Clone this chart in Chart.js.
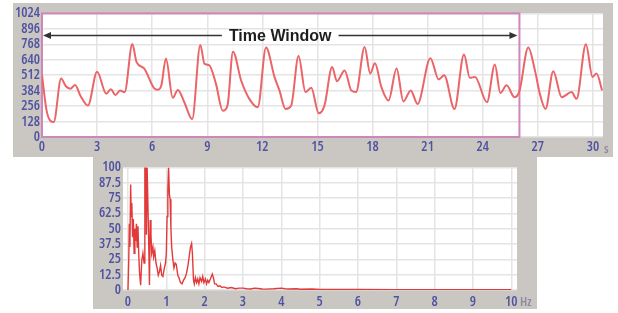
<!DOCTYPE html>
<html>
<head>
<meta charset="utf-8">
<script src="https://cdn.jsdelivr.net/npm/chart.js@4/dist/chart.umd.min.js"></script>
<style>
  body { margin: 0; background: #fff; width: 618px; height: 313px; overflow: hidden; position: relative; }
  .panel { position: absolute; background: #cac6c2; }
  #top-panel { left: 13px; top: 3px; width: 600px; height: 154px; }
  #bottom-panel { left: 93px; top: 157px; width: 444px; height: 152px; }
  canvas { position: absolute; left: 0; top: 0; }
  .unit { position: absolute; color: #8a8aa0; font: condensed 600 13px 'Open Sans', sans-serif; }
</style>
</head>
<body>
<div class="panel" id="top-panel"><canvas id="signal-chart" width="600" height="154"></canvas></div>
<div class="panel" id="bottom-panel"><canvas id="spectrum-chart" width="444" height="152"></canvas></div>
<span class="unit" style="left:604px; top:139px;">s</span>
<span class="unit" style="left:520px; top:292px;">Hz</span>
<script>
// time signal (seconds, value)
const times = [0, 0.27, 0.64, 1.04, 1.3, 1.55, 1.8, 2.1, 2.5, 3.0, 3.5, 3.75, 4.0, 4.25, 4.5, 4.92, 5.15, 5.56, 6.1, 6.32,
  6.5, 6.75, 7.12, 7.4, 7.75, 8.18, 8.62, 8.85, 9.1, 9.47, 9.84, 10.1, 10.4, 10.84, 11.29, 11.75, 12.2, 12.66, 12.93, 13.26,
  13.57, 13.97, 14.35, 14.66, 15.07, 15.38, 15.8, 16.06, 16.48, 16.84, 17.1, 17.57, 17.87, 18.13, 18.48, 18.87, 19.31, 19.68,
  20.08, 20.45, 21.15, 21.6, 21.9, 22.46, 22.98, 23.3, 23.58, 24.23, 24.66, 24.96, 25.3, 25.73, 26.0, 26.48, 26.84, 27.11,
  27.42, 27.84, 28.3, 28.84, 29.11, 29.62, 29.98, 30.2, 30.5];
const signal = [512, 204, 125, 484, 420, 400, 430, 340, 260, 540, 358, 395, 348, 386, 372, 770, 620, 568, 405, 392,
  428, 650, 325, 390, 288, 148, 763, 605, 596, 442, 218, 260, 707, 470, 316, 246, 741, 498, 386, 232,
  260, 671, 372, 408, 196, 260, 580, 462, 550, 386, 372, 746, 526, 610, 414, 302, 568, 295,
  386, 274, 652, 477, 512, 232, 684, 490, 498, 288, 600, 365, 428, 330, 380, 741, 554, 358,
  232, 545, 330, 372, 316, 769, 498, 526, 386];
const timeTicks = [0, 3, 6, 9, 12, 15, 18, 21, 24, 27, 30];
const windowRange = [0, 26];

// spectrum (Hz, amplitude)
const freqs = [0, 0.02, 0.035, 0.05, 0.07, 0.085, 0.1, 0.12, 0.14, 0.16,
  0.18, 0.2, 0.22, 0.24, 0.26, 0.28, 0.3, 0.33, 0.36, 0.39,
  0.42, 0.44, 0.47, 0.48, 0.5, 0.52, 0.54, 0.56, 0.58, 0.6,
  0.62, 0.65, 0.67, 0.7, 0.73, 0.76, 0.79, 0.82, 0.85, 0.88,
  0.91, 0.95, 0.98, 1.0, 1.02, 1.04, 1.06, 1.08, 1.1, 1.12,
  1.14, 1.17, 1.2, 1.23, 1.26, 1.3, 1.33, 1.37, 1.41, 1.45,
  1.49, 1.53, 1.57, 1.6, 1.63, 1.66, 1.68, 1.71, 1.73, 1.76,
  1.79, 1.82, 1.85, 1.88, 1.92, 1.95, 1.98, 2.02, 2.05, 2.08,
  2.11, 2.15, 2.2, 2.23, 2.26, 2.3, 2.35, 2.4, 2.45, 2.5,
  2.6, 2.7, 2.8, 2.9, 3.0, 3.1, 3.2, 3.3, 3.4, 3.5,
  3.6, 3.8, 4.0, 4.1, 4.2, 4.4, 4.5, 4.8, 5.0, 5.5,
  6.0, 7.0, 8.0, 9.0, 10.0];
const amplitude = [0, 24, 54, 35, 86, 60, 71, 43, 58, 30,
  50, 40, 54, 35, 52, 30, 15, 4, 24, 30,
  22, 100, 100, 45, 100, 100, 40, 4, 57, 45,
  30, 35, 27, 32, 22, 18, 12, 15, 20, 12,
  11, 18, 22, 30, 60, 82, 100, 78, 74, 50,
  35, 25, 18, 22, 21, 12, 10, 6, 5, 8,
  10, 14, 21, 28, 35, 38, 30, 8, 5, 10,
  6, 9, 5, 10, 7, 11, 6, 9, 5, 8,
  6, 9, 13, 10, 5, 5, 3, 3.5, 2, 2.5,
  1.5, 2, 1, 1.5, 1.5, 1, 0.8, 1.5, 1.2, 0.8,
  0.7, 1, 1.5, 1, 0.8, 1, 0.6, 0.8, 0.5, 0.4,
  0.4, 0.3, 0.3, 0.3, 0.3];
const freqTicks = [0, 1, 2, 3, 4, 5, 6, 7, 8, 9, 10];

// 'condensed' goes through the weight slot so the font string gets the stretch keyword
const tickFont = { family: "'Open Sans', sans-serif", size: 14, weight: 'condensed 600' };
const tickColor = '#5053a0';
const gridColor = '#e4e4e4';

const whiteArea = {
    id: 'whiteArea',
    beforeDraw(chart) {
        const { ctx, chartArea: a } = chart;
        ctx.save();
        ctx.fillStyle = '#fff';
        ctx.fillRect(a.left, a.top, a.right - a.left, a.bottom - a.top);
        ctx.restore();
    }
};

// pink box + arrow over the time window
const timeWindow = {
    id: 'timeWindow',
    beforeDatasetsDraw(chart) {
        const { ctx, chartArea: a, scales } = chart;
        const x1 = scales.x.getPixelForValue(windowRange[1]);
        ctx.save();
        ctx.strokeStyle = '#cf86b8';
        ctx.lineWidth = 2;
        ctx.strokeRect(a.left, a.top, x1 - a.left, a.bottom - a.top);
        ctx.restore();
    },
    afterDatasetsDraw(chart) {
        const { ctx, chartArea: a, scales } = chart;
        const x0 = scales.x.getPixelForValue(windowRange[0]) + 1;
        const x1 = scales.x.getPixelForValue(windowRange[1]) - 2;
        const y = a.top + 22;
        const mid = (x0 + x1) / 2;
        ctx.save();
        ctx.font = "bold 16px 'Liberation Sans', Arial, sans-serif";
        ctx.fillStyle = '#1e1e1e';
        ctx.textAlign = 'center';
        ctx.textBaseline = 'middle';
        ctx.fillText('Time Window', mid, y + 1);
        const half = ctx.measureText('Time Window').width / 2 + 7;
        ctx.strokeStyle = '#333';
        ctx.lineWidth = 1.5;
        ctx.beginPath();
        ctx.moveTo(x0 + 4, y); ctx.lineTo(mid - half, y);
        ctx.moveTo(mid + half, y); ctx.lineTo(x1 - 4, y);
        ctx.stroke();
        ctx.fillStyle = '#333';
        ctx.beginPath();
        ctx.moveTo(x0, y); ctx.lineTo(x0 + 8, y - 3.5); ctx.lineTo(x0 + 8, y + 3.5);
        ctx.closePath();
        ctx.moveTo(x1, y); ctx.lineTo(x1 - 8, y - 3.5); ctx.lineTo(x1 - 8, y + 3.5);
        ctx.closePath();
        ctx.fill();
        ctx.restore();
    }
};

function axisX(min, max, tickList, height, pad) {
    return {
        type: 'linear', min: min, max: max,
        afterBuildTicks: s => { s.ticks = tickList.map(v => ({ value: v })); },
        afterFit: s => { s.height = height; },
        grid: { color: gridColor, lineWidth: 1.5, drawTicks: false },
        border: { display: false },
        ticks: { color: tickColor, font: tickFont, padding: pad, maxRotation: 0, autoSkip: false, callback: v => String(v) }
    };
}

function axisY(min, max, step, width) {
    return {
        min: min, max: max,
        afterFit: s => { s.width = width; },
        grid: { color: gridColor, lineWidth: 1.5, drawTicks: false },
        border: { display: false },
        ticks: { color: tickColor, font: tickFont, padding: 2, stepSize: step, autoSkip: false, callback: v => String(v) }
    };
}

new Chart(document.getElementById('signal-chart'), {
    type: 'line',
    data: {
        datasets: [{
            data: times.map((t, i) => ({ x: t, y: signal[i] })),
            borderColor: '#ea6468',
            borderWidth: 2,
            pointRadius: 0,
            cubicInterpolationMode: 'monotone'
        }]
    },
    options: {
        responsive: false,
        animation: false,
        events: [],
        layout: { padding: { top: 9, right: 10, left: 0, bottom: 0 } },
        plugins: { legend: { display: false }, tooltip: { enabled: false } },
        scales: {
            x: axisX(0, 30.55, timeTicks, 20, 2),
            y: axisY(0, 1024, 128, 29)
        }
    },
    plugins: [whiteArea, timeWindow]
});

new Chart(document.getElementById('spectrum-chart'), {
    type: 'line',
    data: {
        datasets: [{
            data: freqs.map((f, i) => ({ x: f, y: amplitude[i] })),
            borderColor: '#e23a3a',
            borderWidth: 1.4,
            pointRadius: 0,
            tension: 0
        }]
    },
    options: {
        responsive: false,
        animation: false,
        events: [],
        layout: { padding: { top: 10, right: 20, left: 0, bottom: 0 } },
        plugins: { legend: { display: false }, tooltip: { enabled: false } },
        scales: {
            x: axisX(-0.13, 10.15, freqTicks, 19, 4),
            y: axisY(0, 100, 12.5, 30)
        }
    },
    plugins: [whiteArea]
});
</script>
</body>
</html>
